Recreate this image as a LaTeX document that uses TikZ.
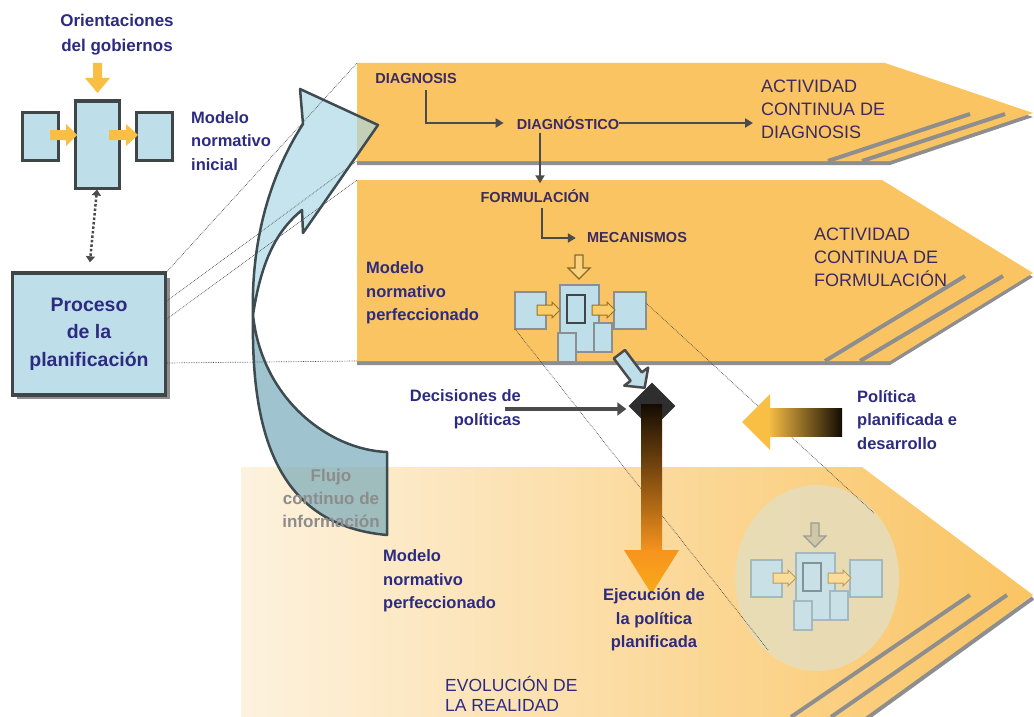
\documentclass[tikz,border=0pt]{standalone}
\usepackage{fontspec}
\setmainfont{Liberation Sans}
\usetikzlibrary{arrows.meta,shapes.geometric,positioning}

\definecolor{bandor}{HTML}{FAC462}
\definecolor{bandsh}{HTML}{8E8E8E}
\definecolor{boxblue}{HTML}{BEDFEA}
\definecolor{boxedge}{HTML}{404548}
\definecolor{yelarrow}{HTML}{F9BF45}
\definecolor{labblue}{HTML}{2D2B7F}
\definecolor{labpurple}{HTML}{3C2A62}
\definecolor{arrgray}{HTML}{4B4B4B}
\definecolor{flowup}{HTML}{A6D6E5}
\definecolor{flowdown}{HTML}{6DA5B6}
\definecolor{flowedge}{HTML}{3E4C52}
\definecolor{creamleft}{HTML}{FDF2DE}
\definecolor{creammid}{HTML}{FCE2AA}
\definecolor{execor}{HTML}{F7941E}
\definecolor{darkdia}{HTML}{2E2E2E}
\definecolor{circfill}{HTML}{E7DDBA}
\definecolor{fadebox}{HTML}{C9E1E6}
\definecolor{fadeedge}{HTML}{A3B9BE}
\definecolor{flujogray}{HTML}{8C8C8C}

\tikzset{
  lbl/.style={text=labblue, font=\bfseries\fontsize{16.5}{23.5}\selectfont, inner sep=0pt, align=left},
  actlbl/.style={text=labpurple, font=\fontsize{18}{23}\selectfont, inner sep=0pt, align=left},
  steplbl/.style={text=labpurple, font=\bfseries\fontsize{14.5}{17}\selectfont, inner sep=0pt},
  conn/.style={draw=arrgray, line width=2.5pt, -{Triangle[length=8pt,width=9pt]}},
  guide/.style={draw=black!70, line width=0.7pt, densely dotted},
  mbox/.style={draw=boxedge, line width=3pt, fill=boxblue, inner sep=0pt},
  stripe/.style={draw=bandsh, line width=4pt},
  % styles of the small normative model
  mpbox/.style={fill=boxblue, draw=boxedge!60, line width=1.3pt},
  mpinner/.style={fill=boxblue, draw=boxedge, line width=1.6pt},
  mparrow/.style={fill=yelarrow!80, draw=yelarrow!60!black, line width=1pt},
  mphollow/.style={fill=yelarrow!70, draw=yelarrow!55!black, line width=1.3pt},
  pics/normmodel/.style={code={
    \draw[mpbox] (0,0) rectangle (31,37);
    \draw[mpbox] (99,0) rectangle (131,37);
    \draw[mpbox] (45,-7) rectangle (84,60);
    \draw[mpinner] (52,3) rectangle (70,31);
    \draw[mpbox] (43,41) rectangle (61,70);
    \draw[mpbox] (79,31) rectangle (97,60);
    \draw[mparrow] (22,13) -- (37,13) -- (37,10) -- (45,18) -- (37,26) -- (37,23) -- (22,23) -- cycle;
    \draw[mparrow] (77,13) -- (92,13) -- (92,10) -- (100,18) -- (92,26) -- (92,23) -- (77,23) -- cycle;
    \draw[mphollow] (60,-37) -- (68,-37) -- (68,-24) -- (75,-24) -- (64,-13) -- (53,-24) -- (60,-24) -- cycle;
    \coordinate (-lsw) at (0,37);
    \coordinate (-re) at (131,11);
  }},
}

\begin{document}
\begin{tikzpicture}[x=1pt,y=-1pt]
\useasboundingbox (0,0) rectangle (1034,717);
\clip (0,0) rectangle (1034,717);

% bands
\shade[left color=creamleft, middle color=creammid, right color=bandor]
  (241,467) -- (862,467) -- (1033,595) -- (868,717) -- (241,717) -- cycle;
\draw[stripe] (1033,598) -- (866,719);
\draw[stripe] (791,717) -- (970,595);
\draw[stripe] (831,717) -- (1007,595);

\fill[bandsh] (357,66) -- (885,66) -- (1033,117) -- (890,165) -- (357,165) -- cycle;
\fill[bandor] (357,63) -- (885,63) -- (1033,113) -- (890,161) -- (357,161) -- cycle;
\draw[stripe] (828,161) -- (970,114);
\draw[stripe] (862,161) -- (1005,114);

\fill[bandsh] (357,183) -- (882,183) -- (1033,277) -- (890,365) -- (357,365) -- cycle;
\fill[bandor] (357,180) -- (882,180) -- (1033,273) -- (890,361) -- (357,361) -- cycle;
\draw[stripe] (825,361) -- (965,276);
\draw[stripe] (860,361) -- (1003,276);

\coordinate (b1nw) at (357,63);
\coordinate (b1sw) at (357,161);
\coordinate (b2nw) at (357,180);
\coordinate (b2sw) at (357,361);

% realidad circle
\node[ellipse, fill=circfill, fill opacity=0.9, minimum width=164, minimum height=186, inner sep=0pt] (circ) at (817,578) {};
\pic[mpbox/.style={fill=fadebox, draw=fadeedge, line width=1.2pt},
     mpinner/.style={fill=fadebox, draw=fadeedge!80!black, line width=1.3pt},
     mparrow/.style={fill=yelarrow!55, draw=yelarrow!45!gray, line width=1pt},
     mphollow/.style={fill=circfill!90!black, draw=gray!80, line width=1.2pt}]
  (cm) at (751,560) {normmodel};

% flujo continuo
\coordinate (pinch) at (253,315);
\filldraw[fill=flowdown, fill opacity=0.65, draw=flowedge, line width=2.5pt, line join=round]
  (pinch) .. controls (251,430) and (275,525) .. (387,535) -- (387,452)
  .. controls (330,450) and (262,400) .. (pinch) -- cycle;
\filldraw[fill=flowup, fill opacity=0.65, draw=flowedge, line width=2.5pt, line join=round]
  (pinch) .. controls (251,245) and (268,178) .. (303,124) -- (300,89) -- (378,125)
  -- (303,233) -- (302,210) .. controls (280,228) and (262,255) .. (pinch) -- cycle;
\node[lbl, text=flujogray, align=center, font=\bfseries\fontsize{17}{23}\selectfont] (flujo) at (331,498) {Flujo\\continuo de\\información};

% orientaciones
\node[lbl, align=center, font=\bfseries\fontsize{17}{25}\selectfont] (orient) at (117,35) {Orientaciones\\del gobiernos};
\fill[yelarrow] (93,63) -- (102,63) -- (102,78) -- (110,78) -- (97.5,93) -- (85,78) -- (93,78) -- cycle;
\node[mbox, minimum width=36, minimum height=48] (mleft) at (40,136) {};
\node[mbox, minimum width=44, minimum height=87] (mcenter) at (97,144.5) {};
\node[mbox, minimum width=36, minimum height=48] (mright) at (154.5,136) {};
\fill[yelarrow] (50,130) -- (66,130) -- (66,124) -- (77,135) -- (66,146) -- (66,140) -- (50,140) -- cycle;
\fill[yelarrow] (109,130) -- (126,130) -- (126,124) -- (138,135) -- (126,146) -- (126,140) -- (109,140) -- cycle;
\node[lbl, anchor=west] (inicial) at (191,141) {Modelo\\normativo\\inicial};

% proceso
\fill[bandsh] (17,278) rectangle (170,399);
\node[mbox, line width=3.5pt, minimum width=153, minimum height=122, align=center,
  text=labblue, font=\bfseries\fontsize{19.5}{27.5}\selectfont] (proc) at (89,334) {Proceso\\de la\\planificación};
\draw[draw=arrgray, line width=2.5pt, dash pattern=on 2.5pt off 2pt,
  {Triangle[length=6pt,width=9pt]}-{Triangle[length=6pt,width=9pt]}, shorten >=9pt]
  (mcenter.south) -- (proc.north);

\coordinate (p2) at (165.5,302);
\coordinate (p3) at (165.5,320);
\coordinate (p4) at (165.5,363);
\draw[guide] (proc.north east) -- (b1nw);
\draw[guide] (p2) -- (b1sw);
\draw[guide] (p3) -- (b2nw);
\draw[guide] (p4) -- (b2sw);

% diagnosis band
\node[steplbl] (diag) at (416,79) {DIAGNOSIS};
\node[steplbl] (diagn) at (568,123) {DIAGNÓSTICO};
\node[actlbl, anchor=west] (actd) at (761,109) {ACTIVIDAD\\CONTINUA DE\\DIAGNOSIS};
\node[steplbl] (form) at (535,196) {FORMULACIÓN};
\node[steplbl] (mec) at (637,238) {MECANISMOS};
\draw[conn, shorten <=6pt, shorten >=13pt] ([xshift=10pt]diag.south) |- (diagn.west);
\draw[conn, shorten >=8pt] (diagn.east) -- (diagn.east -| actd.west);
\draw[conn, shorten <=3pt, shorten >=6pt] ([xshift=-28pt]diagn.south) -- ([xshift=-28pt]diagn.south |- form.north);
\draw[conn, shorten <=5pt, shorten >=11pt] ([xshift=7pt]form.south) |- (mec.west);

% formulacion band
\node[lbl, anchor=west] (mod2) at (366,293) {Modelo\\normativo\\perfeccionado};
\node[actlbl, anchor=west] (actf) at (814,257) {ACTIVIDAD\\CONTINUA DE\\FORMULACIÓN};
\pic (fm) at (515,292) {normmodel};

\draw[guide] (fm-lsw) -- (768,650);
\draw[guide] (fm-re) -- (874,513);

% decisions and execution
\node[diamond, fill=darkdia, minimum width=47, minimum height=47, inner sep=0pt] (diam) at (652,406) {};
\begin{scope}[shift={(632,371)}, rotate=-53]
  \filldraw[fill=boxblue, draw=arrgray, line width=2.5pt, line join=round]
    (-21,-7) -- (7,-7) -- (7,-15) -- (21,0) -- (7,15) -- (7,7) -- (-21,7) -- cycle;
\end{scope}
\shade[top color=black!92!execor, bottom color=execor] (641,404) rectangle (662,552);
\shade[top color=execor, bottom color=execor!80!yellow] (624,550) -- (679,550) -- (651.5,594) -- cycle;
\node[lbl, align=right, anchor=east] (decis) at (521,409) {Decisiones de\\políticas};
\draw[draw=arrgray, line width=4pt, -{Triangle[length=9pt,width=13pt]}, shorten >=2pt]
  ([xshift=-16pt]decis.east) -- (decis.east -| diam.west);

\shade[left color=yelarrow, right color=black!92!execor] (768,408) rectangle (842,436);
\fill[yelarrow] (770,394) -- (770,450) -- (742,422) -- cycle;
\node[lbl, anchor=west] (polit) at (857,420) {Política\\planificada e\\desarrollo};

% realidad band
\node[lbl, anchor=west] (mod3) at (383,581) {Modelo\\normativo\\perfeccionado};
\node[lbl, align=center] (ejec) at (654,620) {Ejecución de\\la política\\planificada};
\node[lbl, anchor=west, font=\fontsize{17.5}{20}\selectfont] (evol) at (445,694) {EVOLUCIÓN DE\\LA REALIDAD};
\end{tikzpicture}
\end{document}
